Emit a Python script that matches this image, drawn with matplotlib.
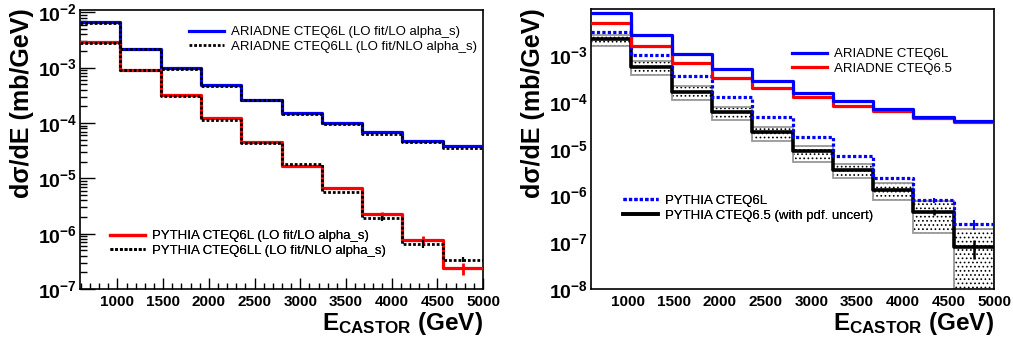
import numpy as np
import matplotlib
matplotlib.use("Agg")
import matplotlib.pyplot as plt
from matplotlib.ticker import LogLocator, MultipleLocator, NullFormatter, FixedLocator

plt.rcParams["font.family"] = ["Liberation Sans", "DejaVu Sans"]
plt.rcParams["mathtext.fontset"] = "custom"
plt.rcParams["mathtext.rm"] = "Liberation Sans"
plt.rcParams["mathtext.bf"] = "Liberation Sans:bold"
plt.rcParams["mathtext.it"] = "Liberation Sans:italic"
plt.rcParams["hatch.linewidth"] = 0.7

# ── data ─────────────────────────────────────────────────────────────────
edges = np.linspace(590, 5000, 11)
centers = 0.5 * (edges[:-1] + edges[1:])
widths = np.diff(edges)

# left panel
ari_6l = [6.6e-3, 2.2e-3, 9.7e-4, 4.8e-4, 2.6e-4, 1.5e-4, 9.8e-5, 6.9e-5, 4.7e-5, 3.8e-5]
ari_6ll = [6.5e-3, 2.15e-3, 9.5e-4, 4.7e-4, 2.55e-4, 1.45e-4, 9.5e-5, 6.3e-5, 4.5e-5, 3.5e-5]
pyt_6l = [2.9e-3, 9.2e-4, 3.2e-4, 1.23e-4, 4.5e-5, 1.65e-5, 6.6e-6, 2.26e-6, 7.8e-7, 2.4e-7]
pyt_6l_err = [0, 0, 0, 0, 0, 0, 0, 0.25e-6, 1.3e-7, 0.6e-7]
pyt_6ll = [2.8e-3, 8.9e-4, 3.1e-4, 1.15e-4, 4.4e-5, 1.8e-5, 5.6e-6, 1.9e-6, 6.6e-7, 3.4e-7]
pyt_6ll_err = [0, 0, 0, 0, 0, 0, 0, 0.2e-6, 1.2e-7, 0.35e-7]

# right panel
ari_6l_r = [8.1e-3, 2.7e-3, 1.07e-3, 5.2e-4, 2.8e-4, 1.56e-4, 1.03e-4, 7.2e-5, 4.9e-5, 4.0e-5]
ari_65_r = [4.9e-3, 1.6e-3, 6.9e-4, 3.3e-4, 1.96e-4, 1.3e-4, 8.3e-5, 6.5e-5, 4.5e-5, 3.7e-5]
pyt_6l_r = [3.2e-3, 1.03e-3, 3.6e-4, 1.28e-4, 4.8e-5, 1.75e-5, 7.1e-6, 2.35e-6, 7.9e-7, 2.4e-7]
pyt_6l_r_err = [0, 0, 0, 0, 0, 0, 0, 0.15e-6, 1.0e-7, 0.6e-7]
pyt_65_r = [2.24e-3, 5.7e-4, 1.64e-4, 6.2e-5, 2.24e-5, 8.8e-6, 3.55e-6, 1.32e-6, 4.5e-7, 7.8e-8]
pyt_65_r_err = [0, 0, 0, 0, 0, 0, 0, 0.1e-6, 0.6e-7, 3.5e-8]
pdf_hi = [2.77e-3, 7.4e-4, 2.17e-4, 7.8e-5, 2.9e-5, 1.17e-5, 4.8e-6, 1.86e-6, 7.6e-7, 1.96e-7]
pdf_lo = [1.56e-3, 3.86e-4, 1.12e-4, 4.2e-5, 1.5e-5, 5.3e-6, 2.35e-6, 8.1e-7, 1.55e-7, 5e-9]

W, H = 1013, 341
DOT = (0, (1.0, 0.7))


def hist(ax, vals, **kw):
    v = np.asarray(vals)
    return ax.step(edges, np.append(v, v[-1]), where="post", **kw)[0]


def errs(ax, vals, err, color, lw=2.0):
    ax.errorbar(centers, vals, yerr=err, fmt="none", ecolor=color, elinewidth=lw,
                capsize=0, zorder=6)


def setup(ax, decades, ticks=True):
    ax.set_yscale("log")
    ax.set_xlim(edges[0], edges[-1])
    ax.xaxis.set_major_locator(FixedLocator([1000, 1500, 2000, 2500, 3000, 3500, 4000, 4500, 5000]))
    ax.xaxis.set_minor_locator(MultipleLocator(100))
    ax.yaxis.set_major_locator(FixedLocator(10.0 ** np.array(decades)))
    ax.yaxis.set_minor_locator(LogLocator(base=10, subs=np.arange(2, 10), numticks=20))
    ax.yaxis.set_minor_formatter(NullFormatter())
    ax.yaxis.set_major_formatter(plt.FuncFormatter(
        lambda v, p: r"$\mathbf{10^{%d}}$" % int(round(np.log10(v)))))
    ax.tick_params(axis="x", which="both", direction="in", top=False, labelsize=11, pad=4)
    ax.tick_params(axis="y", which="both", direction="in", right=False, labelsize=14, pad=2)
    if ticks:
        ax.tick_params(axis="x", which="major", length=8, width=1)
        ax.tick_params(axis="x", which="minor", length=4, width=1)
        ax.tick_params(axis="y", which="major", length=11, width=1)
        ax.tick_params(axis="y", which="minor", length=5, width=1)
    else:
        ax.tick_params(axis="both", which="both", length=0)
    for s in ax.spines.values():
        s.set_linewidth(1.2)
    ax.set_xticklabels(["1000", "1500", "2000", "2500", "3000", "3500", "4000", "4500", "5000"],
                       fontweight="bold")


def legend(ax, handles, labels, x0, yc):
    leg = ax.legend(handles, labels, loc="center left",
                    bbox_to_anchor=(x0 / W, 1 - yc / H), bbox_transform=fig.transFigure,
                    frameon=False, fontsize=9.5, handlelength=2.65, handletextpad=0.55,
                    labelspacing=0.2, borderpad=0, borderaxespad=0)
    ax.add_artist(leg)


fig = plt.figure(figsize=(W / 100, H / 100), dpi=100)
ax1 = fig.add_axes([80 / W, 1 - 289 / H, 403 / W, 279 / H])
ax2 = fig.add_axes([591 / W, 1 - 289 / H, 403 / W, 280 / H])

# ── left panel ───────────────────────────────────────────────────────────
setup(ax1, [-7, -6, -5, -4, -3, -2])
ax1.set_ylim(1e-7, 1.1e-2)
h1 = hist(ax1, ari_6l, color="blue", lw=2.3, zorder=3)
h2 = hist(ax1, ari_6ll, color="black", lw=2.0, ls=DOT, zorder=4)
h3 = hist(ax1, pyt_6l, color="red", lw=2.3, zorder=3)
h4 = hist(ax1, pyt_6ll, color="black", lw=2.0, ls=DOT, zorder=4)
errs(ax1, pyt_6l, pyt_6l_err, "red", 2.0)
errs(ax1, pyt_6ll, pyt_6ll_err, "black", 1.6)
legend(ax1, [h1, h2], ["ARIADNE CTEQ6L (LO fit/LO alpha_s)",
                       "ARIADNE CTEQ6LL (LO fit/NLO alpha_s)"], 189, 39.5)
legend(ax1, [h3, h4], ["PYTHIA CTEQ6L (LO fit/LO alpha_s)",
                       "PYTHIA CTEQ6LL (LO fit/NLO alpha_s)"], 110, 243.5)

# ── right panel ──────────────────────────────────────────────────────────
setup(ax2, [-8, -7, -6, -5, -4, -3], ticks=False)
ax2.set_ylim(1e-8, 0.98e-2)
lo = np.array(pdf_lo)
hi = np.array(pdf_hi)
ax2.bar(centers, hi - lo, bottom=lo, width=widths, facecolor="white", edgecolor="black",
        hatch="....", linewidth=0, zorder=1)
ax2.bar(centers, hi - lo, bottom=lo, width=widths, fill=False, edgecolor="0.6",
        linewidth=1.3, zorder=1.5)
g4 = hist(ax2, pyt_65_r, color="black", lw=2.6, zorder=3)
g3 = hist(ax2, pyt_6l_r, color="blue", lw=2.3, ls=DOT, zorder=4)
g2 = hist(ax2, ari_65_r, color="red", lw=2.3, zorder=5)
g1 = hist(ax2, ari_6l_r, color="blue", lw=2.3, zorder=6)
errs(ax2, pyt_65_r, pyt_65_r_err, "black", 1.8)
errs(ax2, pyt_6l_r, pyt_6l_r_err, "blue", 1.4)
legend(ax2, [g1, g2], ["ARIADNE CTEQ6L", "ARIADNE CTEQ6.5"], 792, 61.5)
legend(ax2, [g3, g4], ["PYTHIA CTEQ6L", "PYTHIA CTEQ6.5 (with pdf. uncert)"], 623, 208)

# ── axis titles ──────────────────────────────────────────────────────────
for ax, xl in ((ax1, 22), (ax2, 533)):
    fig.text(xl / W, 1 - 8 / H, "d\u03c3/dE (mb/GeV)", rotation=90, ha="center", va="top",
             fontsize=18, fontweight="bold")
    x_right = ax.get_position().x1
    fig.text(x_right, 1 - 330 / H, r"$\mathbf{E_{CASTOR}}$ (GeV)", ha="right",
             va="baseline", fontsize=17.5, fontweight="bold")

fig.savefig("out.png", dpi=100)
